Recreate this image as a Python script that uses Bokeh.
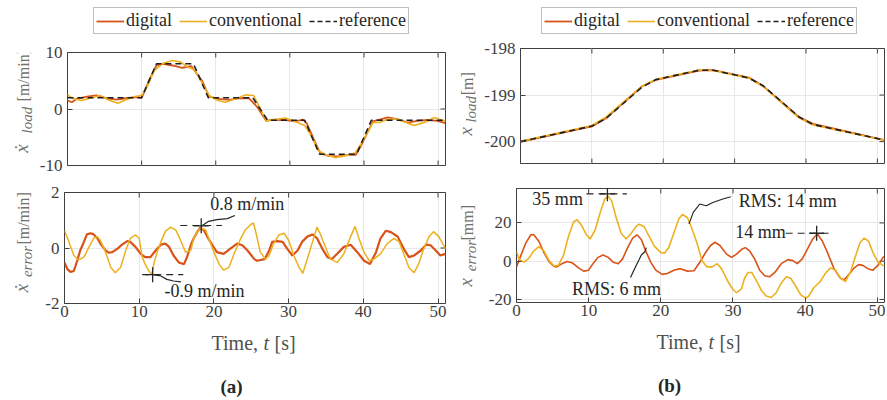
from math import pi
from bokeh.plotting import figure
from bokeh.layouts import row, column
from bokeh.models import (Range1d, Legend, LegendItem, Label, FixedTicker, Grid,
                          CustomJSTickFormatter)
from bokeh.core.properties import value
from bokeh.embed import file_html
from bokeh.resources import INLINE

FONT = "Liberation Serif"
RED = "#D95319"
YEL = "#EDB120"
REFC = "#1f1f1f"
AXC = "#404040"
TICKC = "#404040"
YLABC = "#707070"
ANNC = "#262626"

# ---------------- data: panel (a) velocity ----------------
x_ticks = [0, 10, 20, 30, 40, 50]
x_lim = [0, 51]

ref_t = [0, 10, 12, 17, 19, 25, 27, 32, 34, 39, 41, 51]
ref_vel = [2, 2, 8, 8, 2, 2, -2, -2, -8, -8, -2, -2]

dig_vel_t = [0, 0.6, 1.25, 2.6, 3.9, 5.3, 6.6, 7.9, 9.3, 10.0, 11.1, 12.0, 12.9, 14.2, 15.5, 16.7,
             17.3, 18.2, 19.1, 20.4, 21.8, 23.1, 24.5, 25.6, 26.8, 27.7, 29.4, 30.7, 31.8, 32.3,
             33.2, 34.1, 35.2, 36.5, 37.8, 38.9, 39.6, 40.5, 41.2, 42.1, 43.2, 44.5, 45.9, 47.2,
             48.6, 49.9, 51.0]
dig_vel = [1.5, 1.2, 1.8, 2.2, 2.4, 1.9, 1.65, 1.9, 2.1, 1.95, 5.3, 7.7, 8.0, 7.7, 7.3, 7.6,
           6.5, 4.9, 2.2, 1.8, 1.6, 1.9, 1.9, 0.35, -2.1, -1.9, -1.95, -2.2, -1.9, -2.6,
           -5.3, -7.8, -8.3, -8.4, -8.1, -8.1, -6.5, -4.1, -2.2, -1.9, -1.5, -1.8, -2.4, -2.1,
           -1.95, -2.1, -2.5]

con_vel_t = [0, 0.8, 1.9, 3.0, 4.4, 5.7, 6.8, 7.9, 9.1, 10.0, 10.8, 11.7, 12.9, 14.2, 15.3, 16.2,
             17.1, 18.0, 19.1, 20.3, 21.3, 22.7, 24.0, 25.1, 25.8, 26.8, 27.8, 29.4, 30.7, 32.0,
             32.9, 33.9, 34.8, 36.1, 37.4, 38.8, 39.6, 40.5, 41.2, 42.1, 43.2, 44.5, 45.9, 46.8,
             48.1, 49.5, 50.8, 51.0]
con_vel = [2.5, 1.8, 1.5, 1.9, 2.4, 1.5, 1.0, 1.65, 2.2, 2.4, 4.1, 6.8, 8.1, 8.6, 8.3, 7.4,
           7.0, 5.0, 2.4, 1.5, 1.2, 1.8, 2.5, 2.4, 0.6, -2.1, -1.9, -1.6, -2.2, -2.9,
           -4.8, -7.4, -8.1, -8.6, -8.3, -7.8, -6.2, -4.1, -2.4, -2.4, -1.8, -1.8, -2.5, -2.9,
           -2.4, -1.5, -2.1, -2.0]

# ---------------- data: panel (a) velocity error ----------------
dig_verr_t = [0, 0.4, 0.8, 1.25, 1.7, 2.1, 2.6, 3.0, 3.5, 3.9, 4.4, 4.8, 5.5, 5.9, 6.4, 7.1, 7.7,
              8.4, 8.8, 9.5, 10.2, 10.8, 11.5, 12.2, 12.9, 13.5, 14.0, 14.6, 15.3, 16.0, 16.4,
              16.9, 17.3, 17.8, 18.2, 18.7, 19.1, 19.8, 20.4, 21.3, 22.2, 23.1, 23.8, 24.5, 25.4,
              25.8, 26.8, 27.4, 27.8, 28.5, 29.2, 29.8, 30.5, 31.2, 31.8, 32.5, 33.2, 33.8, 34.5,
              35.2, 35.8, 36.5, 37.4, 38.3, 39.2, 40.1, 40.9, 41.7, 42.3, 43.0, 43.7, 44.6, 45.4,
              46.1, 46.8, 47.7, 48.4, 49.0, 49.7, 50.3, 51.0]
dig_verr = [-0.52, -0.77, -0.86, -0.83, -0.46, -0.09, 0.22, 0.49, 0.53, 0.49, 0.35, 0.16, -0.09,
            -0.17, -0.15, -0.02, 0.12, 0.25, 0.22, 0.04, -0.21, -0.33, -0.33, -0.09, 0.12, 0.16,
            0.04, -0.27, -0.52, -0.58, -0.33, 0.10, 0.35, 0.59, 0.74, 0.62, 0.41, 0.10, -0.15,
            -0.21, -0.02, 0.16, 0.10, -0.09, -0.40, -0.46, -0.40, -0.09, 0.22, 0.25, 0.22, -0.02,
            -0.27, -0.09, 0.22, 0.41, 0.49, 0.35, -0.02, -0.33, -0.40, -0.21, 0.04, 0.12, -0.15,
            -0.46, -0.58, -0.15, 0.35, 0.62, 0.57, 0.41, -0.02, -0.33, -0.27, -0.09, 0.12, 0.10,
            -0.09, -0.27, -0.21]

con_verr_t = [0, 0.6, 1.25, 1.9, 2.6, 3.3, 3.9, 4.4, 4.8, 5.5, 6.2, 6.8, 7.5, 8.2, 8.8, 9.5, 10.0,
              10.4, 10.8, 11.3, 11.7, 12.0, 12.4, 12.9, 13.5, 14.2, 14.9, 15.5, 16.2, 16.9, 17.3,
              17.8, 18.2, 18.9, 19.3, 20.0, 20.7, 21.3, 22.0, 22.7, 23.6, 24.2, 24.9, 25.3, 25.8,
              26.2, 26.9, 27.4, 28.0, 28.7, 29.4, 30.0, 30.7, 31.4, 31.9, 32.5, 33.2, 33.8, 34.3,
              35.0, 35.6, 36.5, 37.4, 38.3, 38.9, 39.4, 40.1, 40.8, 41.4, 42.3, 43.2, 44.1, 44.8,
              45.4, 46.1, 46.8, 47.4, 48.1, 48.8, 49.4, 50.1, 51.0]
con_verr = [0.62, 0.22, -0.27, -0.43, -0.33, 0.04, 0.35, 0.41, 0.28, -0.15, -0.70, -0.89, -0.70,
            -0.09, 0.35, 0.47, 0.35, -0.33, -0.58, -0.83, -0.95, -0.52, -0.15, 0.22, 0.60, 0.75,
            0.65, 0.30, -0.15, -0.09, 0.35, 0.59, 0.72, 0.65, 0.35, -0.15, -0.58, -0.80, -0.70,
            -0.21, 0.35, 0.65, 0.84, 0.90, 0.35, -0.15, -0.40, -0.27, 0.16, 0.47, 0.53, 0.28,
            -0.27, -0.70, -0.91, -0.40, 0.22, 0.75, 0.47, -0.02, -0.40, -0.52, -0.21, 0.41, 0.78,
            0.35, -0.15, -0.46, -0.40, -0.21, 0.16, 0.35, 0.22, -0.21, -0.70, -0.89, -0.58, -0.02,
            0.41, 0.59, 0.41, -0.02]

# ---------------- data: panel (b) position ----------------
ref_pos = [-200.0, -199.667, -199.5, -198.833, -198.667, -198.467, -198.467, -198.633, -198.8,
           -199.467, -199.633, -199.967]
dig_pos = [-200.003, -199.672, -199.497, -198.816, -198.672, -198.473, -198.462, -198.623,
           -198.808, -199.471, -199.619, -199.968]
con_pos = [-199.995, -199.655, -199.468, -198.811, -198.662, -198.460, -198.473, -198.636,
           -198.816, -199.488, -199.644, -199.972]

# ---------------- data: panel (b) position error [mm] ----------------
dig_perr_t = [0, 0.6, 1.3, 2.0, 2.4, 3.1, 3.8, 4.5, 5.2, 5.6, 6.3, 7.0, 7.7, 8.6, 9.3, 10.0, 10.6,
              11.3, 12.0, 12.7, 13.4, 14.1, 14.7, 15.4, 16.1, 16.7, 17.3, 17.9, 18.6, 19.3, 20.2,
              20.9, 21.8, 22.7, 23.7, 24.6, 25.5, 26.2, 26.9, 27.5, 28.2, 29.1, 29.8, 30.5, 31.2,
              31.7, 32.3, 33.0, 33.7, 34.4, 35.1, 35.8, 36.7, 37.6, 38.3, 38.9, 39.6, 40.3, 41.0,
              41.7, 42.4, 43.1, 44.0, 44.9, 45.4, 46.0, 46.7, 47.4, 48.0, 48.7, 49.4, 50.1, 50.8,
              51.0]
dig_perr = [-3.0, 2.9, 9.6, 13.8, 13.8, 10.4, 4.5, -0.2, -2.7, -3.0, -1.3, -0.2, -0.8, -3.5,
            -5.2, -4.7, -1.3, 2.0, 3.2, 2.0, -0.5, -1.3, 1.2, 7.1, 12.1, 13.8, 11.3, 5.4, -0.5,
            -4.7, -6.9, -6.4, -4.7, -3.9, -5.2, -5.0, 0.0, 4.5, 8.2, 9.9, 8.2, 3.7, 2.0, 3.7, 6.2,
            7.1, 5.4, 1.2, -4.7, -7.6, -8.1, -5.9, -1.3, 0.8, 0.3, -1.3, 1.2, 6.2, 11.3, 14.3,
            10.4, 4.5, -3.9, -8.9, -9.7, -7.2, -3.9, -1.8, -2.2, -3.9, -4.7, -2.2, 2.0, 2.5]

con_perr_t = [0, 0.4, 1.05, 1.7, 2.4, 3.1, 3.8, 4.5, 5.2, 5.8, 6.5, 7.2, 7.9, 8.4, 9.0, 9.7, 10.2,
              10.9, 11.6, 12.2, 12.7, 13.2, 13.8, 14.5, 15.2, 15.9, 16.6, 17.0, 17.7, 18.4, 19.1,
              20.0, 20.5, 21.1, 21.8, 22.5, 23.0, 23.7, 24.3, 25.0, 25.7, 26.4, 27.1, 27.8, 28.4,
              29.3, 30.0, 30.5, 31.2, 31.6, 32.1, 32.6, 33.3, 34.0, 34.6, 35.3, 36.0, 36.7, 37.4,
              38.0, 38.7, 39.4, 40.1, 40.5, 41.2, 42.1, 42.8, 43.5, 44.2, 44.9, 45.6, 46.3, 47.0,
              47.6, 48.2, 48.8, 49.4, 50.1, 50.8, 51.0]
con_perr = [4.9, 0.8, -0.5, 1.5, 5.4, 7.6, 5.4, 0.3, -2.5, -2.2, 2.9, 12.9, 20.5, 21.7, 18.8,
            13.8, 11.6, 16.3, 25.5, 32.3, 34.0, 31.4, 23.0, 14.6, 11.6, 14.6, 18.3, 19.3, 18.0,
            12.9, 7.9, 4.5, 4.2, 7.1, 14.6, 22.2, 24.4, 22.7, 17.1, 9.6, 0.3, -3.0, -3.0, -1.3,
            -3.9, -10.6, -14.8, -16.5, -14.3, -8.9, -5.9, -5.9, -10.6, -15.6, -18.2, -19.0, -16.5,
            -11.4, -8.1, -8.9, -13.1, -17.6, -19.3, -18.2, -13.9, -10.6, -6.4, -3.5, -4.7, -8.9,
            -10.6, -5.5, 2.9, 9.6, 12.1, 10.4, 4.5, -0.5, -2.2, -2.6]

# ---------------- annotations (data units) ----------------
a_max = (18.3, 0.8)
a_max_dash = ([15.5, 21.1], [0.81, 0.81])
a_max_lead = ([18.4, 19.3, 20.4, 21.8, 22.8], [0.8, 0.96, 1.02, 1.06, 1.17])
a_max_txt = (19.5, 1.58, "0.8 m/min")
a_min = (11.8, -0.96)
a_min_dash = ([10.4, 15.9], [-0.96, -0.96])
a_min_lead = ([11.9, 12.9, 13.7, 14.6, 15.6], [-0.96, -1.01, -1.13, -1.19, -1.22])
a_min_txt = (13.4, -1.56, "-0.9 m/min")

b_max = (12.6, 35.2)
b_max_dash = ([9.7, 15.3], [35.2, 35.2])
b_max_txt = (2.2, 32.6, "35 mm")
b_max2 = (41.6, 14.6)
b_max2_dash = ([37.3, 43.4], [14.6, 14.6])
b_max2_txt = (30.3, 15.3, "14 mm")
b_rms1_lead = ([23.9, 24.5, 25.4, 26.3, 27.2, 28.6, 29.7], [19.5, 25.5, 29.9, 29.0, 30.7, 32.5, 33.7])
b_rms1_txt = (30.8, 31.6, "RMS: 14 mm")
b_rms2_lead = ([15.8, 16.5, 17.0, 17.3, 17.8, 18.0], [-8.5, -2.9, 0.9, 3.2, 4.9, 7.1])
b_rms2_txt = (7.7, -14.5, "RMS: 6 mm")

# off-canvas sample points for the legend-only renderers
legend_dummy_x = [-20, -10]
legend_dummy_y = [-20, -20]

TICK_FMT = "return String(tick)"


def plain_fig(w, h):
    p = figure(width=w, height=h, x_range=Range1d(0, w), y_range=Range1d(0, h),
               output_backend="svg", toolbar_location=None, tools="", min_border=0,
               x_axis_location=None, y_axis_location=None, title=None)
    p.outline_line_color = None
    p.background_fill_color = "white"
    p.border_fill_color = "white"
    p.grid.visible = False
    return p


def make_fig(width, height, yr, yticks, mb, show_x):
    p = figure(width=width, height=height, x_range=Range1d(*x_lim), y_range=Range1d(*yr),
               output_backend="svg", toolbar_location=None, tools="", title=None,
               min_border_left=mb[0], min_border_right=mb[1], min_border_top=mb[2],
               min_border_bottom=mb[3], x_axis_location=("below" if show_x else None))
    p.background_fill_color = "white"
    p.border_fill_color = "white"
    p.outline_line_color = AXC
    p.outline_line_width = 1
    p.outline_line_alpha = 1
    axes = [(p.yaxis[0], yticks)]
    if show_x:
        axes.append((p.xaxis[0], x_ticks))
    else:
        p.add_layout(Grid(dimension=0, ticker=FixedTicker(ticks=x_ticks, minor_ticks=[])))
    for ax, ticks in axes:
        ax.ticker = FixedTicker(ticks=ticks, minor_ticks=[])
        ax.formatter = CustomJSTickFormatter(code=TICK_FMT)
        ax.axis_line_color = None
        ax.major_tick_in = 5
        ax.major_tick_out = 0
        ax.major_tick_line_color = AXC
        ax.major_label_text_font = FONT
        ax.major_label_text_font_size = "17px"
        ax.major_label_text_color = TICKC
    p.yaxis[0].major_label_standoff = 5
    if show_x:
        p.xaxis[0].major_label_standoff = 2
    for g in p.grid:
        g.grid_line_color = "#e8e8e8"
        if g.dimension == 0:
            g.ticker = FixedTicker(ticks=x_ticks, minor_ticks=[])
        else:
            g.ticker = FixedTicker(ticks=yticks, minor_ticks=[])
    # inward tick marks on the unlabeled edges (half of each dash is clipped by the frame)
    n = len(x_ticks)
    p.scatter(x_ticks, [yr[1]] * n, marker="dash", angle=pi / 2, size=10, line_color=AXC,
              line_width=1)
    if not show_x:
        p.scatter(x_ticks, [yr[0]] * n, marker="dash", angle=pi / 2, size=10, line_color=AXC,
                  line_width=1)
    p.scatter([x_lim[1]] * len(yticks), yticks, marker="dash", size=10, line_color=AXC,
              line_width=1)
    return p


def slabel(p, text, x, y, size, style="normal", color=ANNC, align="left"):
    p.add_layout(Label(x=x, y=y, text=text, text_align=align, text_baseline="middle",
                       text_font=FONT, text_font_size=size, text_font_style=style,
                       text_color=color))


def dlabel(p, spec, size="18px"):
    p.add_layout(Label(x=spec[0], y=spec[1], text=spec[2], text_align="left",
                       text_baseline="middle", text_font=FONT, text_font_size=size,
                       text_color=ANNC))


def ylab_fig(w, h, parts):
    # parts: (text, x, y_start, size, style); text reads bottom-to-top from y_start
    p = plain_fig(w, h)
    for text, x, y, size, style in parts:
        p.text(x=[x], y=[y], text=[text], angle=pi / 2, text_align="left",
               text_baseline="middle", text_font=value(FONT), text_font_size=size,
               text_font_style=style, text_color=YLABC)
    return p


def bottom_fig(w, h, cx, caption, ccx):
    p = plain_fig(w, h)
    y = 56
    slabel(p, "Time,", cx - 43, y, "20px", color="#505050")
    slabel(p, "t", cx + 9, y, "20px", "italic", color="#505050")
    slabel(p, "[s]", cx + 20, y, "20px", color="#505050")
    slabel(p, caption, ccx, 12, "19px", "bold", color="#262626", align="center")
    return p


def legend_fig(w, h, x, y):
    p = plain_fig(w, h)
    r1 = p.line(legend_dummy_x, legend_dummy_y, line_color=RED, line_width=1.8)
    r2 = p.line(legend_dummy_x, legend_dummy_y, line_color=YEL, line_width=1.6)
    r3 = p.line(legend_dummy_x, legend_dummy_y, line_color=REFC, line_width=1.6,
                line_dash="5 3")
    items = [LegendItem(label="digital", renderers=[r1]),
             LegendItem(label="conventional", renderers=[r2]),
             LegendItem(label="reference", renderers=[r3])]
    leg = Legend(items=items, orientation="horizontal", location=(x, y),
                 label_text_font=FONT, label_text_font_size="18px", label_text_color="#262626",
                 glyph_width=28, glyph_height=14, label_standoff=2, spacing=7, padding=2,
                 margin=0, border_line_color="#808080", border_line_width=1,
                 background_fill_color="white", background_fill_alpha=1, label_height=16)
    p.add_layout(leg)
    return p


# ---------------- panel (a) ----------------
legA = legend_fig(455, 44, 93, 10)

a1 = make_fig(419, 134, (-10, 10), [-10, 0, 10], (28, 10, 8, 13), False)
a1.line(dig_vel_t, dig_vel, line_color=RED, line_width=1.8)
a1.line(con_vel_t, con_vel, line_color=YEL, line_width=1.6)
a1.line(ref_t, ref_vel, line_color=REFC, line_width=1.6, line_dash="6 4")
ylA1 = ylab_fig(36, 134, [("\u1e8b", 21, 15, "19px", "italic"), ("load", 26, 38, "15px", "italic"),
                          ("[m/min]", 23, 76, "16px", "normal")])

a2 = make_fig(419, 147, (-2, 2), [-2, 0, 2], (28, 10, 14, 22), True)
a2.line(dig_verr_t, dig_verr, line_color=RED, line_width=2.2)
a2.line(con_verr_t, con_verr, line_color=YEL, line_width=1.5)
for dash, lead, pt in ((a_max_dash, a_max_lead, a_max), (a_min_dash, a_min_lead, a_min)):
    a2.line(dash[0], dash[1], line_color=ANNC, line_width=1.2, line_dash="7 5")
    a2.line(lead[0], lead[1], line_color=ANNC, line_width=1.2)
    a2.scatter([pt[0]], [pt[1]], marker="cross", size=15, line_color=ANNC, line_width=1.3)
dlabel(a2, a_max_txt)
dlabel(a2, a_min_txt)
ylA2 = ylab_fig(36, 147, [("\u1e8b", 21, 15, "19px", "italic"), ("error", 26, 35, "15px", "italic"),
                          ("[m/min]", 23, 78, "16px", "normal")])

botA = bottom_fig(455, 73, 254, "(a)", 231)

# ---------------- panel (b) ----------------
legB = legend_fig(430, 40, 86, 6)

b1 = make_fig(404, 135, (-200.47, -198), [-200, -199, -198], (35, 1, 8, 12), False)
b1.line(ref_t, dig_pos, line_color=RED, line_width=1.8)
b1.line(ref_t, con_pos, line_color=YEL, line_width=1.6)
b1.line(ref_t, ref_pos, line_color=REFC, line_width=1.6, line_dash="6 4")
ylB1 = ylab_fig(26, 135, [("x", 10, 33, "19px", "italic"), ("load", 15, 48, "15px", "italic"),
                          ("[m]", 12, 80, "16px", "normal")])

b2 = make_fig(404, 149, (-21.6, 38), [-20, 0, 20], (35, 1, 13, 22), True)
b2.line(dig_perr_t, dig_perr, line_color=RED, line_width=1.6)
b2.line(con_perr_t, con_perr, line_color=YEL, line_width=1.6)
for dash, pt in ((b_max_dash, b_max), (b_max2_dash, b_max2)):
    b2.line(dash[0], dash[1], line_color=ANNC, line_width=1.2, line_dash="7 5")
    b2.scatter([pt[0]], [pt[1]], marker="cross", size=15, line_color=ANNC, line_width=1.3)
for lead in (b_rms1_lead, b_rms2_lead):
    b2.line(lead[0], lead[1], line_color=ANNC, line_width=1.2)
for spec in (b_max_txt, b_max2_txt, b_rms1_txt, b_rms2_txt):
    dlabel(b2, spec)
ylB2 = ylab_fig(26, 149, [("x", 10, 21, "19px", "italic"), ("error", 15, 41, "15px", "italic"),
                          ("[mm]", 12, 81, "16px", "normal")])

botB = bottom_fig(430, 73, 244, "(b)", 214)

layout = row(
    column(legA, row(ylA1, a1), row(ylA2, a2), botA),
    column(legB, row(ylB1, b1), row(ylB2, b2), botB),
)
open("out.html", "w").write(file_html(layout, INLINE))
